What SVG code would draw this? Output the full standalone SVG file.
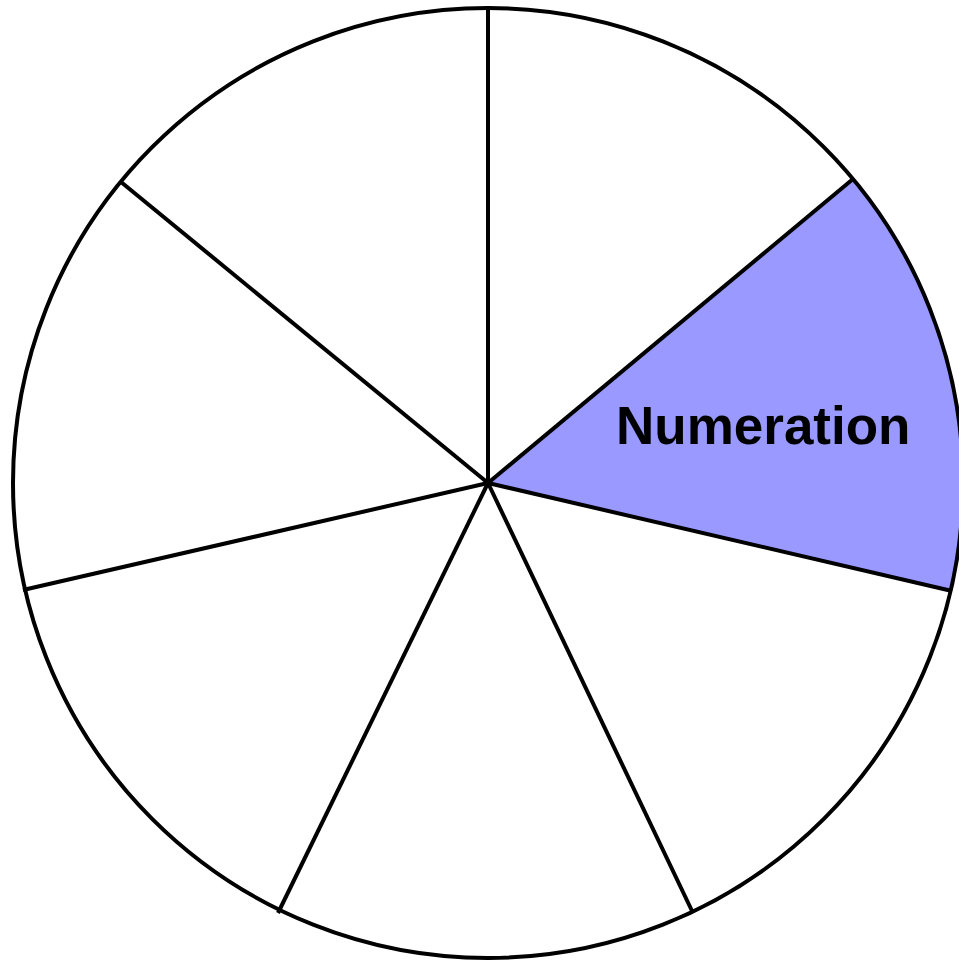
<svg xmlns="http://www.w3.org/2000/svg" width="959" height="963" viewBox="0 0 959 963">
<style>
.ln{stroke:#000;stroke-width:4;fill:none;stroke-linecap:butt}
.lbl{font-family:"Liberation Sans",Arial,sans-serif;font-weight:bold;font-size:53px;fill:#000}
</style>
<rect width="959" height="963" fill="#fff"/>
<g id="sector-numeration">
<path d="M488,483 L853,179 A475,475 0 0 1 952,591 Z" fill="#9999FF"/>
<text class="lbl" x="616" y="444">Numeration</text>
</g>
<g id="spokes">
<line class="ln" x1="488" y1="483" x2="488" y2="8"/>
<line class="ln" x1="488" y1="483" x2="853" y2="179"/>
<line class="ln" x1="488" y1="483" x2="952" y2="591"/>
<line class="ln" x1="488" y1="483" x2="693" y2="913"/>
<line class="ln" x1="488" y1="483" x2="278" y2="913"/>
<line class="ln" x1="488" y1="483" x2="23" y2="590"/>
<line class="ln" x1="488" y1="483" x2="121" y2="182"/>
</g>
<g id="circle">
<circle class="ln" cx="488" cy="483" r="475"/>
</g>
</svg>
